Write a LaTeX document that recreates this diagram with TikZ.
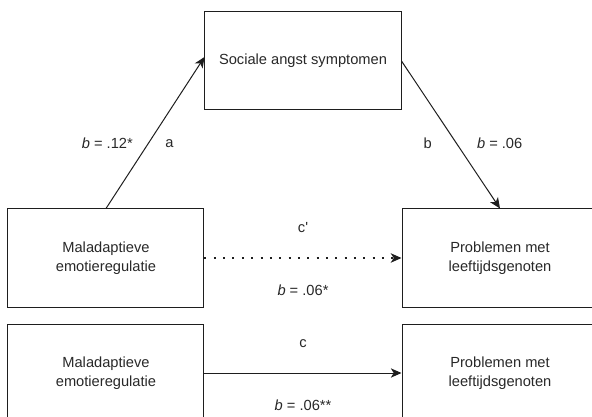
\documentclass[tikz,border=0pt]{standalone}
\usepackage{fontspec}
\setmainfont{Liberation Sans}
\usepackage{tikz}
\usetikzlibrary{positioning,arrows.meta}
\definecolor{boxline}{RGB}{30,30,30}
\definecolor{labelgray}{RGB}{40,40,40}

\begin{document}
\begin{tikzpicture}[node distance=73.5pt, >={Stealth[length=8pt,width=7pt,inset=2.2pt]}]
    \tikzstyle{var} = [rectangle, minimum width=147pt, minimum height=73.5pt, align=center, draw=boxline, line width=0.75pt, text=labelgray, font=\fontsize{11}{14}\selectfont]
    \tikzstyle{coef} = [text=labelgray, font=\fontsize{11}{14}\selectfont]
    \tikzstyle{link} = [->, draw=boxline, line width=0.75pt]

    % Picture frame
    \useasboundingbox (-227.25pt,-267pt) rectangle (216.75pt,45.75pt);
    \clip (-227.25pt,-267pt) rectangle (216.75pt,45.75pt);

    % Mediator
    \node [var] (angst) {Sociale angst symptomen};

    % Mediation model
    \node [var, below left=73.5pt and 0pt of angst] (emoA) {Maladaptieve\\emotieregulatie};
    \node [var, below right=73.5pt and 0pt of angst] (peersA) {Problemen met\\leeftijdsgenoten};

    % Total effect
    \node [var, below=12pt of emoA] (emoB) {Maladaptieve\\emotieregulatie};
    \node [var, below=12pt of peersA] (peersB) {Problemen met\\leeftijdsgenoten};

    % Arrows
    \draw [link] (emoA.north) -- node [coef, pos=0.43, xshift=15.75pt] (pathA) {a} node [coef, pos=0.43, xshift=-30.75pt] (coefA) {\textit{b} = .12*} ([yshift=3pt]angst.west);
    \draw [link] (angst.east) -- node [coef, pos=0.56, xshift=-21.75pt] (pathB) {b} node [coef, pos=0.56, xshift=32.25pt] (coefB) {\textit{b} = .06} (peersA.north);
    \draw [link, line width=1.5pt, dash pattern=on 1.5pt off 5.5pt] (emoA) -- node [coef, yshift=23pt] (pathCp) {c\textquotesingle} node [coef, yshift=-24pt] (coefCp) {\textit{b} = .06*} (peersA);
    \draw [link] (emoB) -- node [coef, yshift=22pt] (pathC) {c} node [coef, yshift=-24pt] (coefC) {\textit{b} = .06**} (peersB);
\end{tikzpicture}
\end{document}
